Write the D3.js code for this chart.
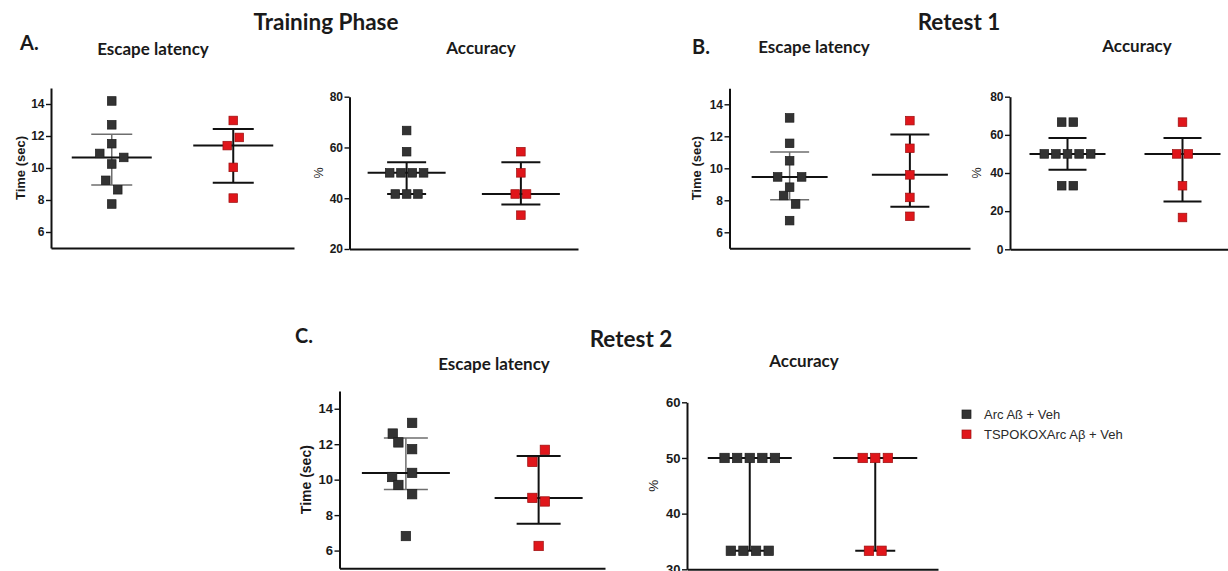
<!DOCTYPE html>
<html>
<head>
<meta charset="utf-8">
<script src="https://cdn.jsdelivr.net/npm/d3@7"></script>
<style>
  body { margin: 0; background: #fff; }
  svg { display: block; }
</style>
</head>
<body>
<svg id="chart" width="1228" height="571"></svg>
<script>
// ---------------- data ----------------
const groups = ["Arc Aß + Veh", "TSPOKOXArc Aβ + Veh"];

// Escape latency (sec), one value per animal
const trainLatencyArc    = [14.19, 12.70, 11.52, 10.91, 10.66, 10.25, 9.23, 8.64, 7.75];
const trainLatencyTspo   = [12.97, 11.91, 11.40, 10.04, 8.12];
const retest1LatencyArc  = [13.15, 11.56, 10.47, 9.46, 9.46, 8.82, 8.30, 7.77, 6.73];
const retest1LatencyTspo = [12.98, 11.25, 9.59, 8.18, 7.00];
const retest2LatencyArc  = [13.20, 12.60, 12.10, 11.72, 10.38, 10.15, 9.70, 9.18, 6.82];
const retest2LatencyTspo = [11.68, 11.00, 8.97, 8.77, 6.26];

// Accuracy (% correct trials)
const trainAccuracyArc    = [66.67, 58.33, 50, 50, 50, 50, 41.67, 41.67, 41.67];
const trainAccuracyTspo   = [58.33, 50, 41.67, 41.67, 33.33];
const retest1AccuracyArc  = [66.67, 66.67, 50, 50, 50, 50, 50, 33.33, 33.33];
const retest1AccuracyTspo = [66.67, 50, 50, 33.33, 16.67];
const retest2AccuracyArc  = [50, 50, 50, 50, 50, 33.33, 33.33, 33.33, 33.33];
const retest2AccuracyTspo = [50, 50, 50, 33.33, 33.33];

// Tick values
const latencyTicks         = [6, 8, 10, 12, 14];
const trainAccuracyTicks   = [20, 40, 60, 80];
const retest1AccuracyTicks = [0, 20, 40, 60, 80];
const retest2AccuracyTicks = [30, 40, 50, 60];

// ---------------- layout ----------------
// Side-by-side placement of neighbouring latency points (in marker slots)
const trainLatencyArcSpread    = [0, 0, 0, -1, 1, 0, -0.5, 0.5, 0];
const trainLatencyTspoSpread   = [0, 0.5, -0.5, 0, 0];
const retest1LatencyArcSpread  = [0, 0, 0, -1, 1, 0, -0.5, 0.5, 0];
const retest1LatencyTspoSpread = [0, 0, 0, 0, 0];
const retest2LatencyArcSpread  = [0.5, -1.05, -0.6, 0.5, 0.5, -1.1, -0.6, 0.5, 0];
const retest2LatencyTspoSpread = [0.5, -0.5, -0.5, 0.5, 0];

const colors = ["#333333", "#e0161b"];
const strokes = ["#1c1c1c", "#9a0f0f"];

const panels = [
  { x0: 51, x1: 294, top: 88, bottom: 248, domain: [5, 15], ticks: latencyTicks,
    label: "Time (sec)", series: [trainLatencyArc, trainLatencyTspo],
    spread: [trainLatencyArcSpread, trainLatencyTspoSpread],
    size: 8.6, pitch: 12, med: 40, cap: 20.5, tickFont: 12, labelFont: 13, labelDx: 31, latency: true },
  { x0: 349.5, x1: 578, top: 96.7, bottom: 249, domain: [20, 80], ticks: trainAccuracyTicks,
    label: "%", series: [trainAccuracyArc, trainAccuracyTspo],
    size: 8.6, pitch: 11.3, med: 39, cap: 19.5, tickFont: 12, labelFont: 12.5, labelDx: 30.5 },
  { x0: 729.5, x1: 970, top: 88.3, bottom: 248.3, domain: [5, 15], ticks: latencyTicks,
    label: "Time (sec)", series: [retest1LatencyArc, retest1LatencyTspo],
    spread: [retest1LatencyArcSpread, retest1LatencyTspoSpread],
    size: 8.6, pitch: 12, med: 38, cap: 19.5, tickFont: 12, labelFont: 13, labelDx: 33, latency: true },
  { x0: 1010, x1: 1240, top: 96.7, bottom: 249.3, domain: [0, 80], ticks: retest1AccuracyTicks,
    label: "%", series: [retest1AccuracyArc, retest1AccuracyTspo],
    size: 8.6, pitch: 11.6, med: 38, cap: 19, tickFont: 12, labelFont: 12.5, labelDx: 32.7 },
  { x0: 339.5, x1: 605, top: 391, bottom: 568.3, domain: [5, 15], ticks: latencyTicks,
    label: "Time (sec)", series: [retest2LatencyArc, retest2LatencyTspo],
    spread: [retest2LatencyArcSpread, retest2LatencyTspoSpread],
    size: 9.4, pitch: 12.5, med: 44, cap: 22, tickFont: 13, labelFont: 14, labelDx: 33.5, latency: true },
  { x0: 687, x1: 938, top: 402.3, bottom: 569.3, domain: [30, 60], ticks: retest2AccuracyTicks,
    label: "%", series: [retest2AccuracyArc, retest2AccuracyTspo],
    size: 9.4, pitch: 12.6, med: 42, cap: 20, tickFont: 13, labelFont: 13.5, labelDx: 33.7 }
];

// Quartiles the way GraphPad Prism computes them
function quartile(sorted, p) {
  const n = sorted.length;
  const h = p * (n + 1) - 1;
  if (h <= 0) return sorted[0];
  if (h >= n - 1) return sorted[n - 1];
  const lo = Math.floor(h);
  return sorted[lo] + (h - lo) * (sorted[lo + 1] - sorted[lo]);
}

// Identical values sit in a centred row
function tieSpread(values) {
  const counts = d3.rollup(values, v => v.length, d => d);
  const seen = new Map();
  return values.map(v => {
    const i = seen.get(v) || 0;
    seen.set(v, i + 1);
    return i - (counts.get(v) - 1) / 2;
  });
}

const svg = d3.select("#chart");
const tickFamily = "'Liberation Sans', Arial, sans-serif";
const titleFamily = "Lato, 'Open Sans', sans-serif";

panels.forEach(p => {
  const g = svg.append("g");
  const x = d3.scalePoint().domain(groups).range([p.x0, p.x1]).padding(0.5);
  const y = d3.scaleLinear().domain(p.domain).range([p.bottom, p.top]);

  // y axis
  const ya = g.append("g")
    .attr("transform", `translate(${p.x0},0)`)
    .call(d3.axisLeft(y).tickValues(p.ticks).tickSize(5).tickSizeOuter(0).tickPadding(1.5)
      .tickFormat(d3.format("d")));
  ya.select(".domain").attr("stroke", "#111").attr("stroke-width", 2);
  ya.selectAll(".tick line").attr("stroke", "#111").attr("stroke-width", 1.4);
  ya.selectAll(".tick text")
    .attr("font-family", tickFamily).attr("font-weight", "bold")
    .attr("font-size", p.tickFont).attr("fill", "#1a1a1a");

  // x axis (baseline only)
  const xa = g.append("g")
    .attr("transform", `translate(0,${p.bottom})`)
    .call(d3.axisBottom(x).tickValues([]).tickSizeOuter(0));
  xa.select(".domain").attr("stroke", "#111").attr("stroke-width", 2);

  // y label
  g.append("text")
    .attr("transform", `translate(${p.x0 - p.labelDx},${(p.top + p.bottom) / 2}) rotate(-90)`)
    .attr("text-anchor", "middle").attr("dominant-baseline", "central")
    .attr("font-family", tickFamily)
    .attr("font-weight", p.label === "%" ? "normal" : "bold")
    .attr("font-size", p.labelFont).attr("fill", "#1a1a1a")
    .text(p.label);

  p.series.forEach((vals, gi) => {
    const cx = x(groups[gi]);
    const sorted = vals.slice().sort(d3.ascending);
    const med = quartile(sorted, 0.5);
    const q1 = quartile(sorted, 0.25);
    const q3 = quartile(sorted, 0.75);
    const whisk = (p.latency && gi === 0) ? "#6e6e6e" : "#111";
    const whiskW = (p.latency && gi === 0) ? 1.5 : 2;

    // interquartile range
    g.append("line").attr("x1", cx).attr("x2", cx).attr("y1", y(q1)).attr("y2", y(q3))
      .attr("stroke", whisk).attr("stroke-width", whiskW);
    [q1, q3].forEach(q => {
      g.append("line").attr("x1", cx - p.cap).attr("x2", cx + p.cap)
        .attr("y1", y(q)).attr("y2", y(q))
        .attr("stroke", whisk).attr("stroke-width", whiskW);
    });
    // median
    g.append("line").attr("x1", cx - p.med).attr("x2", cx + p.med)
      .attr("y1", y(med)).attr("y2", y(med))
      .attr("stroke", "#111").attr("stroke-width", 2);

    // individual animals
    const offs = p.spread ? p.spread[gi] : tieSpread(vals);
    g.selectAll(null).data(vals).join("rect")
      .attr("x", (d, i) => cx + offs[i] * p.pitch - p.size / 2)
      .attr("y", d => y(d) - p.size / 2)
      .attr("width", p.size).attr("height", p.size)
      .attr("fill", colors[gi]).attr("stroke", strokes[gi]).attr("stroke-width", 0.7);
  });
});

// ---------------- titles ----------------
const titles = [
  { t: "Training Phase", x: 326, y: 30, s: 22.5, a: "middle" },
  { t: "Retest 1", x: 959, y: 30, s: 22.5, a: "middle" },
  { t: "Retest 2", x: 631, y: 347, s: 22.5, a: "middle" },
  { t: "A.", x: 20, y: 50, s: 20, a: "start" },
  { t: "B.", x: 692, y: 54, s: 20, a: "start" },
  { t: "C.", x: 295, y: 343, s: 20, a: "start" },
  { t: "Escape latency", x: 153, y: 55, s: 17, a: "middle" },
  { t: "Accuracy", x: 481, y: 54, s: 17, a: "middle" },
  { t: "Escape latency", x: 814, y: 53, s: 17, a: "middle" },
  { t: "Accuracy", x: 1137, y: 52, s: 17, a: "middle" },
  { t: "Escape latency", x: 494, y: 370, s: 17, a: "middle" },
  { t: "Accuracy", x: 804, y: 367, s: 17, a: "middle" }
];
svg.selectAll("text.title").data(titles).join("text")
  .attr("class", "title")
  .attr("x", d => d.x).attr("y", d => d.y)
  .attr("text-anchor", d => d.a)
  .attr("font-family", titleFamily).attr("font-weight", "bold")
  .attr("font-size", d => d.s).attr("fill", "#1a1a1a")
  .text(d => d.t);

// ---------------- legend ----------------
const legend = svg.append("g").attr("transform", "translate(962,410)");
groups.forEach((name, i) => {
  legend.append("rect").attr("x", 0).attr("y", i * 20).attr("width", 9).attr("height", 8.5)
    .attr("fill", colors[i]).attr("stroke", strokes[i]).attr("stroke-width", 0.7);
  legend.append("text").attr("x", 22).attr("y", i * 20 + 8.5)
    .attr("font-family", tickFamily).attr("font-size", 13).attr("fill", "#2a2a2a")
    .text(name);
});
</script>
</body>
</html>
